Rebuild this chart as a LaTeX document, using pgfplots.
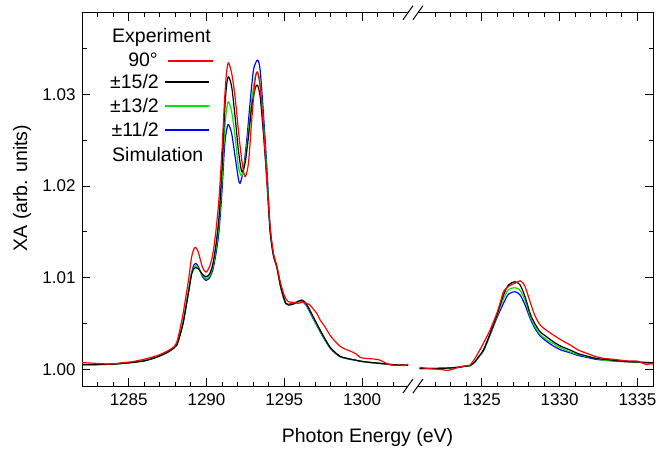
\documentclass[border=0pt]{standalone}
\usepackage{pgfplots}
\pgfplotsset{compat=1.18}
\usepackage{pgfplotstable}
\usepackage{fontspec}
\setmainfont{Liberation Sans}

% ---------- left segment (1282 - 1303 eV) ----------
\pgfplotstableread{
x y
1282.0 1.00072
1282.4 1.00070
1282.8 1.00066
1283.2 1.00062
1283.6 1.00058
1284.0 1.00060
1284.4 1.00068
1284.8 1.00076
1285.2 1.00082
1285.6 1.00096
1286.0 1.00110
1286.4 1.00128
1286.8 1.00148
1287.2 1.00175
1287.6 1.00210
1287.9 1.00245
1288.1 1.00300
1288.3 1.00440
1288.5 1.00610
1288.7 1.00820
1288.85 1.00980
1289.05 1.01230
1289.2 1.01315
1289.3 1.01330
1289.45 1.01290
1289.6 1.01200
1289.75 1.01110
1289.97 1.01060
1290.2 1.01120
1290.4 1.01250
1290.6 1.01500
1290.8 1.01850
1291.0 1.02400
1291.15 1.02900
1291.28 1.03220
1291.41 1.03344
1291.62 1.03230
1291.84 1.02970
1292.05 1.02610
1292.27 1.02280
1292.48 1.02100
1292.70 1.02250
1292.91 1.02720
1293.13 1.03160
1293.28 1.03240
1293.45 1.03080
1293.66 1.02650
1293.88 1.02060
1294.09 1.01560
1294.3 1.01270
1294.52 1.01130
1294.75 1.00950
1294.95 1.00830
1295.1 1.00770
1295.27 1.00737
1295.59 1.00730
1295.9 1.00720
1296.13 1.00730
1296.4 1.00722
1296.66 1.00700
1296.9 1.00650
1297.09 1.00610
1297.3 1.00540
1297.63 1.00460
1297.95 1.00370
1298.3 1.00300
1298.6 1.00250
1298.9 1.00222
1299.23 1.00200
1299.6 1.00170
1299.88 1.00130
1300.2 1.00120
1300.5 1.00116
1300.9 1.00110
1301.16 1.00100
1301.5 1.00070
1301.8 1.00050
1302.1 1.00042
1302.45 1.00048
1302.7 1.00040
1302.96 1.00055
}\redL

\pgfplotstableread{
x y
1282.0 1.00050
1283.0 1.00051
1284.0 1.00056
1285.0 1.00070
1285.5 1.00080
1286.0 1.00092
1286.5 1.00115
1287.0 1.00145
1287.5 1.00185
1287.9 1.00230
1288.1 1.00265
1288.3 1.00370
1288.5 1.00500
1288.7 1.00690
1288.85 1.00840
1289.05 1.01040
1289.2 1.01100
1289.3 1.01110
1289.45 1.01100
1289.6 1.01070
1289.75 1.01035
1289.97 1.01010
1290.2 1.01040
1290.4 1.01140
1290.6 1.01350
1290.8 1.01650
1291.0 1.02200
1291.15 1.02750
1291.28 1.03080
1291.41 1.03191
1291.62 1.03082
1291.84 1.02755
1292.05 1.02391
1292.27 1.02155
1292.48 1.02246
1292.70 1.02537
1292.91 1.02864
1293.13 1.03064
1293.28 1.03100
1293.45 1.02973
1293.66 1.02573
1293.88 1.02064
1294.09 1.01500
1294.3 1.01250
1294.52 1.01120
1294.75 1.00920
1294.95 1.00790
1295.1 1.00720
1295.27 1.00700
1295.59 1.00712
1295.9 1.00740
1296.13 1.00756
1296.4 1.00720
1296.66 1.00640
1296.9 1.00560
1297.09 1.00500
1297.3 1.00430
1297.63 1.00330
1297.95 1.00240
1298.3 1.00180
1298.6 1.00140
1298.9 1.00125
1299.23 1.00112
1299.6 1.00100
1299.88 1.00090
1300.2 1.00082
1300.5 1.00076
1300.9 1.00070
1301.16 1.00065
1301.5 1.00060
1301.8 1.00054
1302.1 1.00050
1302.45 1.00047
1302.96 1.00045
}\blackL

\pgfplotstableread{
x y
1282.0 1.00051
1283.0 1.00052
1284.0 1.00057
1285.0 1.00071
1285.5 1.00081
1286.0 1.00093
1286.5 1.00116
1287.0 1.00147
1287.5 1.00188
1287.9 1.00234
1288.1 1.00270
1288.3 1.00378
1288.5 1.00510
1288.7 1.00700
1288.85 1.00850
1289.05 1.01050
1289.2 1.01115
1289.3 1.01130
1289.45 1.01110
1289.6 1.01070
1289.75 1.01025
1289.97 1.00990
1290.2 1.01020
1290.4 1.01110
1290.6 1.01300
1290.8 1.01580
1291.0 1.02070
1291.15 1.02550
1291.28 1.02820
1291.41 1.02919
1291.62 1.02809
1291.84 1.02537
1292.05 1.02210
1292.27 1.02112
1292.48 1.02282
1292.70 1.02610
1292.91 1.02937
1293.13 1.03191
1293.28 1.03246
1293.45 1.03118
1293.66 1.02682
1293.88 1.02137
1294.09 1.01520
1294.3 1.01250
1294.52 1.01120
1294.75 1.00915
1294.95 1.00785
1295.1 1.00715
1295.27 1.00705
1295.59 1.00718
1295.9 1.00742
1296.13 1.00750
1296.4 1.00710
1296.66 1.00630
1296.9 1.00550
1297.09 1.00490
1297.3 1.00420
1297.63 1.00322
1297.95 1.00235
1298.3 1.00176
1298.6 1.00138
1298.9 1.00123
1299.23 1.00110
1299.6 1.00099
1299.88 1.00089
1300.2 1.00081
1300.5 1.00075
1300.9 1.00069
1301.16 1.00064
1301.5 1.00059
1301.8 1.00053
1302.1 1.00049
1302.45 1.00046
1302.96 1.00044
}\greenL

\pgfplotstableread{
x y
1282.0 1.00052
1283.0 1.00053
1284.0 1.00058
1285.0 1.00072
1285.5 1.00082
1286.0 1.00094
1286.5 1.00117
1287.0 1.00148
1287.5 1.00190
1287.9 1.00237
1288.1 1.00275
1288.3 1.00385
1288.5 1.00520
1288.7 1.00710
1288.85 1.00860
1289.05 1.01060
1289.2 1.01140
1289.3 1.01156
1289.45 1.01130
1289.6 1.01070
1289.75 1.01010
1289.97 1.00970
1290.2 1.01000
1290.4 1.01080
1290.6 1.01250
1290.8 1.01500
1291.0 1.01950
1291.15 1.02400
1291.28 1.02600
1291.41 1.02671
1291.62 1.02573
1291.84 1.02319
1292.05 1.02083
1292.16 1.02028
1292.37 1.02173
1292.59 1.02501
1292.80 1.02900
1293.02 1.03264
1293.28 1.03373
1293.45 1.03264
1293.66 1.02791
1293.88 1.02210
1294.09 1.01550
1294.3 1.01245
1294.52 1.01115
1294.75 1.00910
1294.95 1.00780
1295.1 1.00715
1295.27 1.00710
1295.59 1.00722
1295.9 1.00742
1296.13 1.00745
1296.4 1.00700
1296.66 1.00620
1296.9 1.00540
1297.09 1.00480
1297.3 1.00412
1297.63 1.00315
1297.95 1.00230
1298.3 1.00172
1298.6 1.00136
1298.9 1.00121
1299.23 1.00109
1299.6 1.00098
1299.88 1.00088
1300.2 1.00080
1300.5 1.00074
1300.9 1.00068
1301.16 1.00063
1301.5 1.00058
1301.8 1.00052
1302.1 1.00048
1302.45 1.00045
1302.96 1.00043
}\blueL

% ---------- right segment (1321 - 1336 eV, true energies) ----------
\pgfplotstableread{
x y
1321.0 1.00022
1321.4 1.00012
1321.8 1.00005
1322.2 1.00000
1322.5 0.99995
1322.75 0.99988
1323.0 0.99995
1323.3 1.00010
1323.6 1.00028
1324.0 1.00040
1324.24 1.00047
1324.4 1.00080
1324.56 1.00120
1324.8 1.00190
1325.1 1.00284
1325.53 1.00430
1325.96 1.00610
1326.2 1.00740
1326.39 1.00846
1326.6 1.00890
1326.8 1.00915
1327.14 1.00940
1327.46 1.00966
1327.6 1.00950
1327.78 1.00900
1328.1 1.00737
1328.4 1.00590
1328.75 1.00483
1329.2 1.00420
1329.6 1.00374
1330.1 1.00320
1330.68 1.00265
1331.2 1.00210
1331.75 1.00174
1332.3 1.00140
1332.8 1.00120
1333.4 1.00110
1333.9 1.00100
1334.5 1.00090
1334.97 1.00090
1335.3 1.00070
1335.6 1.00050
1335.8 1.00060
1336.0 1.00058
}\redR

\pgfplotstableread{
x y
1321.0 1.00010
1322.0 1.00010
1322.75 1.00013
1323.2 1.00018
1323.6 1.00025
1324.0 1.00035
1324.24 1.00040
1324.56 1.00083
1324.8 1.00140
1325.1 1.00210
1325.53 1.00390
1325.96 1.00590
1326.39 1.00810
1326.71 1.00920
1327.14 1.00955
1327.46 1.00920
1327.78 1.00790
1328.1 1.00610
1328.4 1.00500
1328.75 1.00410
1329.2 1.00350
1329.6 1.00300
1330.1 1.00250
1330.68 1.00210
1331.2 1.00170
1331.75 1.00145
1332.3 1.00120
1332.8 1.00110
1333.4 1.00100
1333.9 1.00090
1334.5 1.00085
1334.97 1.00080
1335.5 1.00075
1336.0 1.00072
}\blackR

\pgfplotstableread{
x y
1321.0 1.00010
1322.0 1.00010
1322.75 1.00013
1323.2 1.00018
1323.6 1.00025
1324.0 1.00035
1324.24 1.00040
1324.56 1.00082
1324.8 1.00138
1325.1 1.00207
1325.53 1.00385
1325.96 1.00580
1326.39 1.00770
1326.71 1.00870
1327.14 1.00890
1327.46 1.00860
1327.78 1.00750
1328.1 1.00580
1328.4 1.00470
1328.75 1.00380
1329.2 1.00320
1329.6 1.00280
1330.1 1.00230
1330.68 1.00190
1331.2 1.00160
1331.75 1.00140
1332.3 1.00120
1332.8 1.00100
1333.4 1.00095
1333.9 1.00088
1334.5 1.00082
1334.97 1.00078
1335.5 1.00074
1336.0 1.00071
}\greenR

\pgfplotstableread{
x y
1321.0 1.00010
1322.0 1.00010
1322.75 1.00013
1323.2 1.00018
1323.6 1.00025
1324.0 1.00035
1324.24 1.00040
1324.56 1.00080
1324.8 1.00135
1325.1 1.00200
1325.53 1.00375
1325.96 1.00560
1326.39 1.00720
1326.71 1.00820
1327.14 1.00846
1327.46 1.00810
1327.78 1.00700
1328.1 1.00556
1328.4 1.00450
1328.75 1.00363
1329.2 1.00300
1329.6 1.00254
1330.1 1.00210
1330.68 1.00180
1331.2 1.00150
1331.75 1.00130
1332.3 1.00110
1332.8 1.00100
1333.4 1.00092
1333.9 1.00086
1334.5 1.00080
1334.97 1.00077
1335.5 1.00073
1336.0 1.00070
}\blueR

\definecolor{cred}{RGB}{255,0,0}
\definecolor{cgreen}{RGB}{0,230,0}
\definecolor{cblue}{RGB}{0,0,255}

\begin{document}
\begin{tikzpicture}
\path[use as bounding box] (0pt,0pt) rectangle (658pt,448pt);
\begin{axis}[
  at={(82pt,62pt)}, anchor=south west,
  scale only axis, width=571pt, height=373.3pt,
  xmin=1282, xmax=1318.7, ymin=0.99818, ymax=1.0389,
  axis line style={line width=1pt},
  every tick/.style={black, line width=0.9pt},
  tick align=inside, major tick length=8pt, minor tick length=4.5pt,
  xtick={1285,1290,1295,1300,1307.7,1312.7,1317.7},
  xticklabels={1285,1290,1295,1300,1325,1330,1335},
  minor xtick={1283,1284,1286,1287,1288,1289,1291,1292,1293,1294,1296,1297,1298,1299,1301,1302,
               1304.7,1305.7,1306.7,1308.7,1309.7,1310.7,1311.7,1313.7,1314.7,1315.7,1316.7},
  ytick={1.00,1.01,1.02,1.03},
  minor ytick={1.005,1.015,1.025,1.035},
  /pgf/number format/assume math mode=true,
  tick label style={font=\fontsize{17}{20}\selectfont},
  xticklabel style={yshift=-4pt},
  yticklabel style={xshift=-3pt, /pgf/number format/.cd, fixed, fixed zerofill, precision=2},
  label style={font=\fontsize{19.5}{23}\selectfont},
  xlabel={Photon Energy (eV)},
  ylabel={XA (arb. units)},
  xlabel style={at={(axis description cs:0.5,-0.137)}, anchor=center},
  ylabel style={at={(axis description cs:-0.105,0.53)}, anchor=center},
  every axis plot/.append style={line width=1.2pt, line join=round, smooth, tension=0.45},
]
\addplot[cblue, no marks] table {\blueL};
\addplot[cgreen, no marks] table {\greenL};
\addplot[black, no marks] table {\blackL};
\addplot[cred, no marks] table {\redL};
\addplot[cblue, no marks] table[x expr=\thisrow{x}-17.3] {\blueR};
\addplot[cgreen, no marks] table[x expr=\thisrow{x}-17.3] {\greenR};
\addplot[black, no marks] table[x expr=\thisrow{x}-17.3] {\blackR};
\addplot[cred, no marks] table[x expr=\thisrow{x}-17.3] {\redR};

% legend
\begin{scope}[every node/.style={font=\fontsize{19.5}{23}\selectfont, inner sep=0pt}]
\node[anchor=west] at (rel axis cs:0.0525,0.935) {Experiment};
\node[anchor=east] at (rel axis cs:0.1331,0.873) {90°};
\node[anchor=east] at (rel axis cs:0.1349,0.8143) {±15/2};
\node[anchor=east] at (rel axis cs:0.1349,0.750) {±13/2};
\node[anchor=east] at (rel axis cs:0.1349,0.6858) {±11/2};
\node[anchor=west] at (rel axis cs:0.0525,0.6188) {Simulation};
\end{scope}
\draw[cred, line width=1.2pt] (rel axis cs:0.1506,0.8706) -- (rel axis cs:0.2294,0.8706);
\draw[black, line width=1.2pt] (rel axis cs:0.1454,0.8143) -- (rel axis cs:0.2224,0.8143);
\draw[cgreen, line width=1.2pt] (rel axis cs:0.1454,0.750) -- (rel axis cs:0.2224,0.750);
\draw[cblue, line width=1.2pt] (rel axis cs:0.1454,0.6858) -- (rel axis cs:0.2224,0.6858);

\coordinate (bl1) at (rel axis cs:0.5709,0);
\coordinate (bl2) at (rel axis cs:0.5884,0);
\coordinate (tl1) at (rel axis cs:0.5709,1);
\coordinate (tl2) at (rel axis cs:0.5884,1);
\end{axis}
% axis break marks
\fill[white] ([yshift=-1.5pt]bl1) rectangle ([yshift=1.5pt]bl2);
\fill[white] ([yshift=-1.5pt]tl1) rectangle ([yshift=1.5pt]tl2);
\foreach \c in {bl1,bl2,tl1,tl2}{
  \draw[line width=1pt] ([xshift=-5pt,yshift=-7pt]\c) -- ([xshift=5pt,yshift=7pt]\c);
}
\end{tikzpicture}
\end{document}
